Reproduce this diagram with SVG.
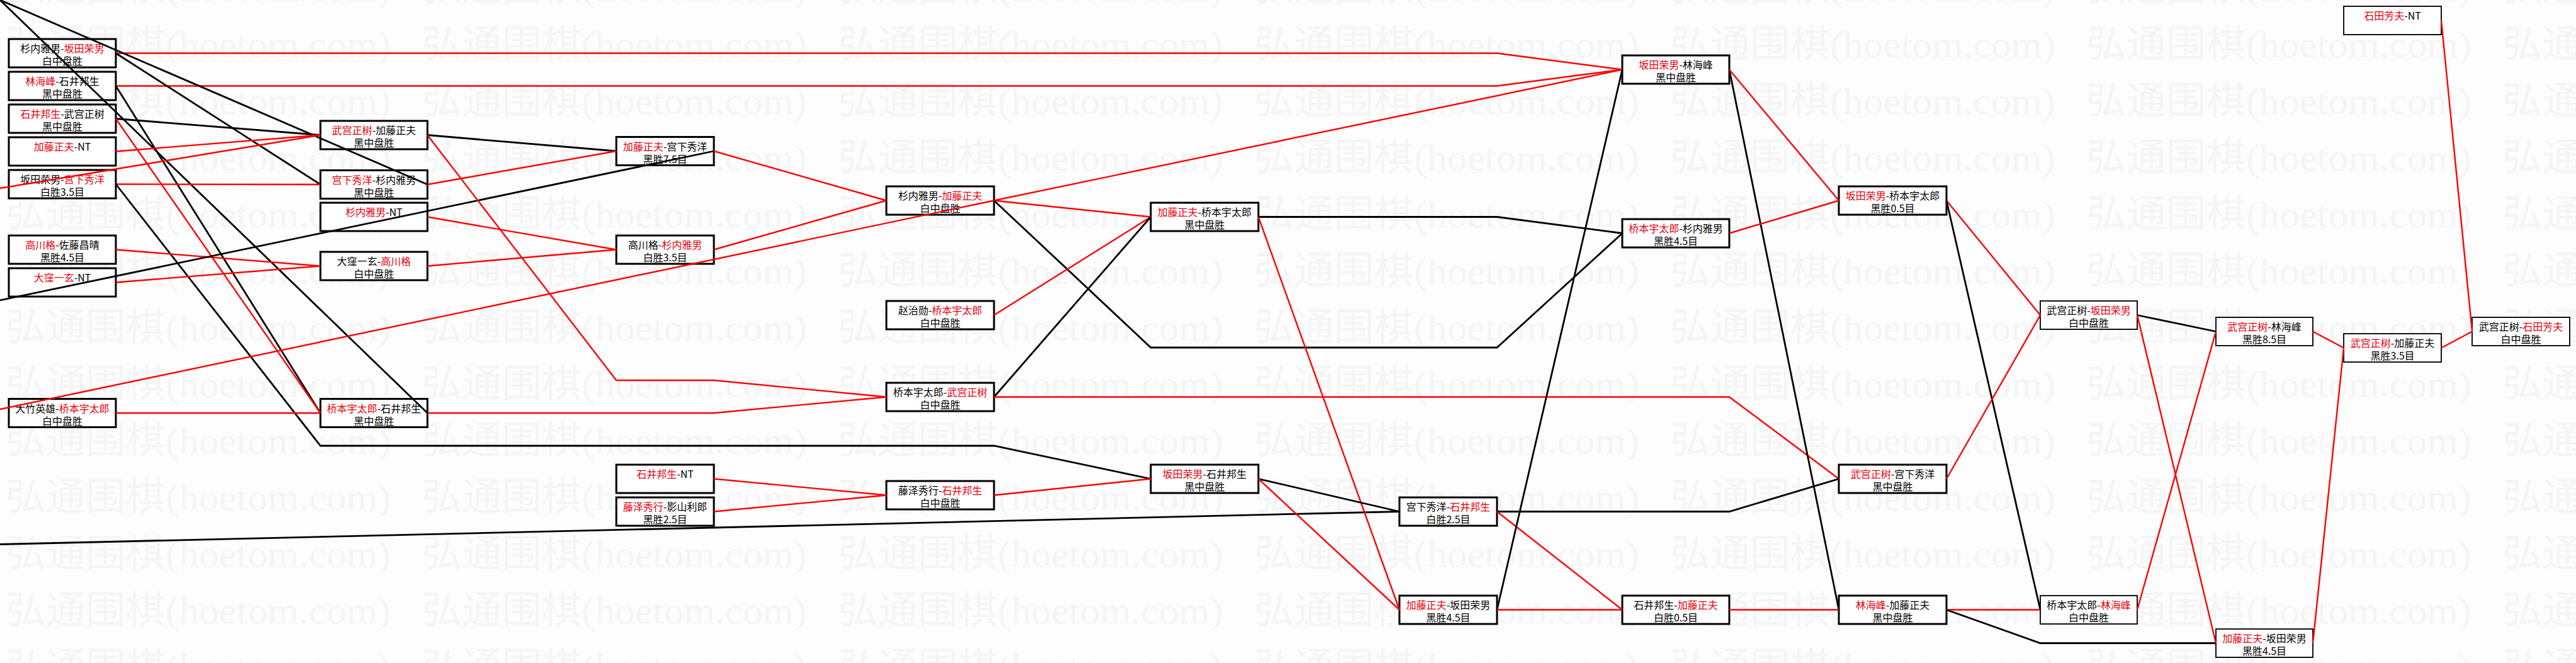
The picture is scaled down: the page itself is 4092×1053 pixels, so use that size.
<svg xmlns="http://www.w3.org/2000/svg" width="4092" height="1053" viewBox="0 0 4092 1053">
<style>
.bx{fill:#fff;stroke:#000;stroke-width:3}
.bx2{fill:#fff;stroke:#111;stroke-width:2}
.t{font-family:"Noto Sans CJK SC","Noto Sans CJK JP",sans-serif;font-size:16px;text-anchor:middle;dominant-baseline:central;fill:#000}
.rd{fill:#e8000b}
.k{fill:none;stroke:#000;stroke-width:2.8;stroke-linejoin:miter}
.r{fill:none;stroke:#f00;stroke-width:2.4;stroke-linejoin:miter}
.wm{font-family:"Liberation Serif","Noto Sans CJK SC",serif;font-size:60px;fill:#f5f5f5}
</style>
<defs>
<pattern id="wmp" patternUnits="userSpaceOnUse" x="9" y="31" width="661" height="89.9">
<text class="wm" x="0" y="60" textLength="612" lengthAdjust="spacingAndGlyphs">弘通围棋(hoetom.com)</text>
</pattern>
</defs>
<rect width="4092" height="1053" fill="#fdfdfd"/>
<rect width="4092" height="1053" fill="url(#wmp)"/>

<g id="nodes">
<g id="n1"><rect class="bx" x="14" y="62" width="170" height="45"/><text class="t" x="99" y="76">杉内雅男-<tspan class="rd">坂田荣男</tspan></text><text class="t" x="99" y="96">白中盘胜</text></g>
<g id="n2"><rect class="bx" x="14" y="114" width="170" height="45"/><text class="t" x="99" y="128"><tspan class="rd">林海峰</tspan>-石井邦生</text><text class="t" x="99" y="148">黑中盘胜</text></g>
<g id="n3"><rect class="bx" x="14" y="166" width="170" height="45"/><text class="t" x="99" y="180"><tspan class="rd">石井邦生</tspan>-武宫正树</text><text class="t" x="99" y="200">黑中盘胜</text></g>
<g id="n4"><rect class="bx" x="14" y="218" width="170" height="45"/><text class="t" x="99" y="232"><tspan class="rd">加藤正夫</tspan>-NT</text></g>
<g id="n5"><rect class="bx" x="14" y="270" width="170" height="45"/><text class="t" x="99" y="284">坂田荣男-<tspan class="rd">宫下秀洋</tspan></text><text class="t" x="99" y="304">白胜3.5目</text></g>
<g id="n6"><rect class="bx" x="14" y="374" width="170" height="45"/><text class="t" x="99" y="388"><tspan class="rd">高川格</tspan>-佐藤昌晴</text><text class="t" x="99" y="408">黑胜4.5目</text></g>
<g id="n7"><rect class="bx" x="14" y="426" width="170" height="45"/><text class="t" x="99" y="440"><tspan class="rd">大窪一玄</tspan>-NT</text></g>
<g id="n8"><rect class="bx" x="14" y="633.5" width="170" height="45"/><text class="t" x="99" y="647.5">大竹英雄-<tspan class="rd">桥本宇太郎</tspan></text><text class="t" x="99" y="667.5">白中盘胜</text></g>

<g id="n9"><rect class="bx" x="509" y="192" width="170" height="45"/><text class="t" x="594" y="206"><tspan class="rd">武宫正树</tspan>-加藤正夫</text><text class="t" x="594" y="226">黑中盘胜</text></g>
<g id="n10"><rect class="bx" x="509" y="270.5" width="170" height="45"/><text class="t" x="594" y="284.5"><tspan class="rd">宫下秀洋</tspan>-杉内雅男</text><text class="t" x="594" y="304.5">黑中盘胜</text></g>
<g id="n11"><rect class="bx" x="509" y="322" width="170" height="45"/><text class="t" x="594" y="336"><tspan class="rd">杉内雅男</tspan>-NT</text></g>
<g id="n12"><rect class="bx" x="509" y="400" width="170" height="45"/><text class="t" x="594" y="414">大窪一玄-<tspan class="rd">高川格</tspan></text><text class="t" x="594" y="434">白中盘胜</text></g>
<g id="n13"><rect class="bx" x="509" y="633.5" width="170" height="45"/><text class="t" x="594" y="647.5"><tspan class="rd">桥本宇太郎</tspan>-石井邦生</text><text class="t" x="594" y="667.5">黑中盘胜</text></g>

<g id="n14"><rect class="bx" x="979" y="217.5" width="155" height="45"/><text class="t" x="1056.5" y="231.5"><tspan class="rd">加藤正夫</tspan>-宫下秀洋</text><text class="t" x="1056.5" y="251.5">黑胜7.5目</text></g>
<g id="n15"><rect class="bx" x="979" y="374" width="155" height="45"/><text class="t" x="1056.5" y="388">高川格-<tspan class="rd">杉内雅男</tspan></text><text class="t" x="1056.5" y="408">白胜3.5目</text></g>
<g id="n16"><rect class="bx" x="979" y="738" width="155" height="45"/><text class="t" x="1056.5" y="752"><tspan class="rd">石井邦生</tspan>-NT</text></g>
<g id="n17"><rect class="bx" x="979" y="790" width="155" height="45"/><text class="t" x="1056.5" y="804"><tspan class="rd">藤泽秀行</tspan>-影山利郎</text><text class="t" x="1056.5" y="824">黑胜2.5目</text></g>

<g id="n18"><rect class="bx" x="1408" y="296" width="171" height="45"/><text class="t" x="1493.5" y="310">杉内雅男-<tspan class="rd">加藤正夫</tspan></text><text class="t" x="1493.5" y="330">白中盘胜</text></g>
<g id="n19"><rect class="bx" x="1408" y="478" width="171" height="45"/><text class="t" x="1493.5" y="492">赵治勋-<tspan class="rd">桥本宇太郎</tspan></text><text class="t" x="1493.5" y="512">白中盘胜</text></g>
<g id="n20"><rect class="bx" x="1408" y="608" width="171" height="45"/><text class="t" x="1493.5" y="622">桥本宇太郎-<tspan class="rd">武宫正树</tspan></text><text class="t" x="1493.5" y="642">白中盘胜</text></g>
<g id="n21"><rect class="bx" x="1408" y="764" width="171" height="45"/><text class="t" x="1493.5" y="778">藤泽秀行-<tspan class="rd">石井邦生</tspan></text><text class="t" x="1493.5" y="798">白中盘胜</text></g>

<g id="n22"><rect class="bx" x="1828" y="322" width="171" height="45"/><text class="t" x="1913.5" y="336"><tspan class="rd">加藤正夫</tspan>-桥本宇太郎</text><text class="t" x="1913.5" y="356">黑中盘胜</text></g>
<g id="n23"><rect class="bx" x="1828" y="738" width="171" height="45"/><text class="t" x="1913.5" y="752"><tspan class="rd">坂田荣男</tspan>-石井邦生</text><text class="t" x="1913.5" y="772">黑中盘胜</text></g>

<g id="n24"><rect class="bx" x="2223" y="790" width="155" height="45"/><text class="t" x="2300.5" y="804">宫下秀洋-<tspan class="rd">石井邦生</tspan></text><text class="t" x="2300.5" y="824">白胜2.5目</text></g>
<g id="n25"><rect class="bx" x="2223" y="946" width="155" height="45"/><text class="t" x="2300.5" y="960"><tspan class="rd">加藤正夫</tspan>-坂田荣男</text><text class="t" x="2300.5" y="980">黑胜4.5目</text></g>

<g id="n26"><rect class="bx" x="2577" y="88" width="170" height="45"/><text class="t" x="2662" y="102"><tspan class="rd">坂田荣男</tspan>-林海峰</text><text class="t" x="2662" y="122">黑中盘胜</text></g>
<g id="n27"><rect class="bx" x="2577" y="348" width="170" height="45"/><text class="t" x="2662" y="362"><tspan class="rd">桥本宇太郎</tspan>-杉内雅男</text><text class="t" x="2662" y="382">黑胜4.5目</text></g>
<g id="n28"><rect class="bx" x="2577" y="946" width="170" height="45"/><text class="t" x="2662" y="960">石井邦生-<tspan class="rd">加藤正夫</tspan></text><text class="t" x="2662" y="980">白胜0.5目</text></g>

<g id="n29"><rect class="bx" x="2921" y="296" width="171" height="45"/><text class="t" x="3006.5" y="310"><tspan class="rd">坂田荣男</tspan>-桥本宇太郎</text><text class="t" x="3006.5" y="330">黑胜0.5目</text></g>
<g id="n30"><rect class="bx" x="2921" y="738" width="171" height="45"/><text class="t" x="3006.5" y="752"><tspan class="rd">武宫正树</tspan>-宫下秀洋</text><text class="t" x="3006.5" y="772">黑中盘胜</text></g>
<g id="n31"><rect class="bx" x="2921" y="946" width="171" height="45"/><text class="t" x="3006.5" y="960"><tspan class="rd">林海峰</tspan>-加藤正夫</text><text class="t" x="3006.5" y="980">黑中盘胜</text></g>

<g id="n32"><rect class="bx2" x="3241" y="478" width="154" height="45"/><text class="t" x="3318" y="492">武宫正树-<tspan class="rd">坂田荣男</tspan></text><text class="t" x="3318" y="512">白中盘胜</text></g>
<g id="n33"><rect class="bx2" x="3241" y="946" width="154" height="45"/><text class="t" x="3318" y="960">桥本宇太郎-<tspan class="rd">林海峰</tspan></text><text class="t" x="3318" y="980">白中盘胜</text></g>

<g id="n34"><rect class="bx2" x="3520" y="504" width="154" height="45"/><text class="t" x="3597" y="518"><tspan class="rd">武宫正树</tspan>-林海峰</text><text class="t" x="3597" y="538">黑胜8.5目</text></g>
<g id="n35"><rect class="bx2" x="3520" y="999" width="154" height="45"/><text class="t" x="3597" y="1013"><tspan class="rd">加藤正夫</tspan>-坂田荣男</text><text class="t" x="3597" y="1033">黑胜4.5目</text></g>

<g id="n36"><rect class="bx2" x="3723" y="10" width="155" height="45"/><text class="t" x="3800.5" y="24"><tspan class="rd">石田芳夫</tspan>-NT</text></g>
<g id="n37"><rect class="bx2" x="3723" y="530" width="155" height="45"/><text class="t" x="3800.5" y="544"><tspan class="rd">武宫正树</tspan>-加藤正夫</text><text class="t" x="3800.5" y="564">黑胜3.5目</text></g>

<g id="n38"><rect class="bx2" x="3927" y="504" width="155" height="45"/><text class="t" x="4004.5" y="518">武宫正树-<tspan class="rd">石田芳夫</tspan></text><text class="t" x="4004.5" y="538">白中盘胜</text></g>
</g>

<g id="connectors">
<polyline class="r" points="184,84.5 2378,84.5 2577,110.5"/>
<polyline class="r" points="184,136.5 2378,136.5 2577,110.5"/>
<line class="k" x1="0" y1="0" x2="679" y2="293"/>
<line class="k" x1="0" y1="0" x2="679" y2="656"/>
<line class="k" x1="184" y1="84.5" x2="509" y2="293"/>
<line class="k" x1="184" y1="136.5" x2="509" y2="656"/>
<line class="k" x1="184" y1="188.5" x2="509" y2="214.5"/>
<line class="r" x1="184" y1="188.5" x2="509" y2="656"/>
<line class="r" x1="184" y1="240.5" x2="509" y2="214.5"/>
<line class="r" x1="0" y1="299" x2="509" y2="214.5"/>
<line class="r" x1="184" y1="292.5" x2="509" y2="293"/>
<polyline class="k" points="184,292.5 509,708 1579,708 1828,760.5"/>
<line class="r" x1="184" y1="396.5" x2="509" y2="422.5"/>
<line class="r" x1="184" y1="448.5" x2="509" y2="422.5"/>
<line class="k" x1="0" y1="477" x2="1134" y2="240"/>
<polyline class="r" points="0,650 1579,318.5 2577,110.5"/>
<line class="r" x1="184" y1="656" x2="509" y2="656"/>
<line class="k" x1="0" y1="864.5" x2="2223" y2="812.5"/>
<line class="k" x1="679" y1="214.5" x2="979" y2="240"/>
<polyline class="r" points="679,214.5 979,604 1134,604 1408,630.5"/>
<line class="r" x1="679" y1="293" x2="979" y2="240"/>
<line class="r" x1="679" y1="344.5" x2="979" y2="396.5"/>
<line class="r" x1="679" y1="422.5" x2="979" y2="396.5"/>
<polyline class="r" points="679,656 1134,656 1408,630.5"/>
<line class="r" x1="1134" y1="240" x2="1408" y2="318.5"/>
<line class="r" x1="1134" y1="396.5" x2="1408" y2="318.5"/>
<line class="r" x1="1134" y1="760.5" x2="1408" y2="786.5"/>
<line class="r" x1="1134" y1="812.5" x2="1408" y2="786.5"/>
<line class="r" x1="1579" y1="318.5" x2="1828" y2="344.5"/>
<polyline class="k" points="1579,318.5 1828,552 2378,552 2577,370.5"/>
<line class="r" x1="1579" y1="500.5" x2="1828" y2="344.5"/>
<line class="k" x1="1579" y1="630.5" x2="1828" y2="344.5"/>
<polyline class="r" points="1579,630.5 2747,630.5 2921,760.5"/>
<line class="r" x1="1579" y1="786.5" x2="1828" y2="760.5"/>
<polyline class="k" points="1999,344.5 2378,344.5 2577,370.5"/>
<line class="r" x1="1999" y1="344.5" x2="2223" y2="968.5"/>
<line class="k" x1="1999" y1="760.5" x2="2223" y2="812.5"/>
<line class="r" x1="1999" y1="760.5" x2="2223" y2="968.5"/>
<polyline class="k" points="2378,812.5 2747,812.5 2921,760.5"/>
<line class="r" x1="2378" y1="812.5" x2="2577" y2="968.5"/>
<line class="r" x1="2378" y1="968.5" x2="2577" y2="968.5"/>
<line class="k" x1="2577" y1="110.5" x2="2378" y2="968.5"/>
<line class="r" x1="2747" y1="968.5" x2="2921" y2="968.5"/>
<line class="k" x1="2747" y1="110.5" x2="2921" y2="968.5"/>
<line class="r" x1="2747" y1="110.5" x2="2921" y2="318.5"/>
<line class="r" x1="2747" y1="370.5" x2="2921" y2="318.5"/>
<line class="r" x1="3092" y1="318.5" x2="3241" y2="500.5"/>
<line class="k" x1="3092" y1="318.5" x2="3241" y2="968.5"/>
<line class="r" x1="3092" y1="760.5" x2="3241" y2="500.5"/>
<line class="r" x1="3092" y1="968.5" x2="3241" y2="968.5"/>
<polyline class="k" points="3092,968.5 3241,1021.5 3520,1021.5"/>
<line class="k" x1="3395" y1="500.5" x2="3520" y2="526.5"/>
<line class="r" x1="3395" y1="500.5" x2="3520" y2="1021.5"/>
<line class="r" x1="3395" y1="968.5" x2="3520" y2="526.5"/>
<line class="r" x1="3674" y1="526.5" x2="3723" y2="552.5"/>
<line class="r" x1="3674" y1="1021.5" x2="3723" y2="552.5"/>
<line class="r" x1="3878" y1="552.5" x2="3927" y2="526.5"/>
<line class="r" x1="3878" y1="32.5" x2="3927" y2="526.5"/>
</g>
</svg>
